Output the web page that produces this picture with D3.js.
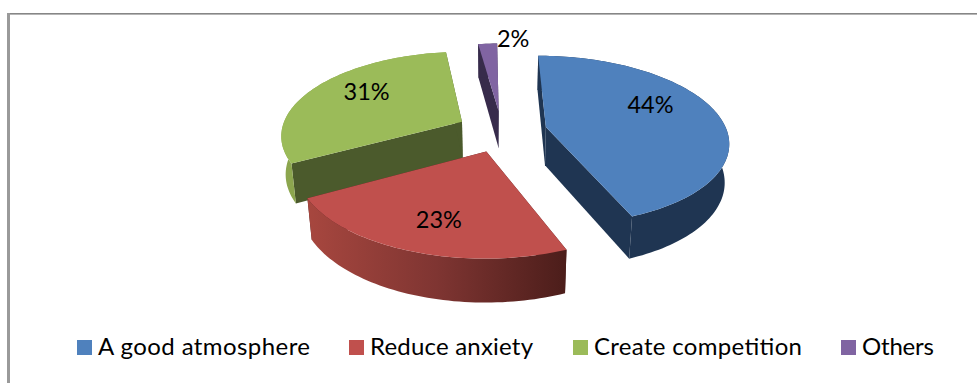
<!DOCTYPE html>
<html>
<head>
<meta charset="utf-8">
<script src="https://cdn.jsdelivr.net/npm/d3@7/dist/d3.min.js"></script>
<style>
  html, body { margin: 0; padding: 0; background: #fff; }
  svg { display: block; }
  text { font-family: Lato, "Noto Sans", sans-serif; fill: #000; }
</style>
</head>
<body>
<script>
const categories = ["A good atmosphere", "Reduce anxiety", "Create competition", "Others"];
const percentages = [44, 23, 31, 2];
const topColors = ["#4f81bd", "#c0504d", "#9bbb59", "#8064a2"];
const sideColors = ["#1f3552", "#4d2020", "#4b5a2c", "#372b4b"];
const rimColors = ["#1f3552", "url(#redRim)", "#8ca64e", "#372b4b"];
const legendSwatchX = [77, 349, 573, 841];
const legendTextWidth = [212, 163, 208, 72];
const labelNudge = [[-7, -10], [-1, 10], [2, -5], [22, -24]];
const paintOrder = [3, 2, 0, 1];

const width = 977, height = 383;
const explode = 0.25, thickness = 1, perspective = 0.155, depthFalloff = 0.02, shear = 1.8;

// Flat pie coordinates: x to the right, z toward the viewer, radius 1.
const xScale = d3.scaleLinear().domain([-1, 1]).range([500 - 181, 500 + 181]);
const zScale = d3.scaleLinear().domain([-1, 1]).range([131 - 83.5, 131 + 83.5]);
const hScale = d3.scaleLinear().domain([0, 1]).range([0, 39]);

function project(x, z, h) {
  const w = 1 - perspective * z + depthFalloff * h;
  return [
    xScale(0) + (xScale(x) - xScale(0)) / w + shear * (1 + z),
    zScale(0) + (zScale(z) - zScale(0) + hScale(h)) / w
  ];
}

const dir = a => [Math.sin(a), -Math.cos(a)];
const pie = d3.pie().sort(null).startAngle(0).endAngle(2 * Math.PI);
const slices = pie(percentages).map((s, i) => {
  const mid = (s.startAngle + s.endAngle) / 2;
  const [ux, uz] = dir(mid);
  return { ...s, i, mid, ox: ux * explode, oz: uz * explode };
});

function arcSamples(s, h) {
  const n = Math.max(4, Math.round((s.endAngle - s.startAngle) * 40));
  return d3.range(n + 1).map(k => {
    const [ux, uz] = dir(s.startAngle + (s.endAngle - s.startAngle) * k / n);
    return project(s.ox + ux, s.oz + uz, h);
  });
}

const path = d3.line();
const svg = d3.select("body").append("svg").attr("width", width).attr("height", height);

const grad = svg.append("defs").append("linearGradient").attr("id", "redRim")
  .attr("gradientUnits", "userSpaceOnUse")
  .attr("x1", 305).attr("x2", 568).attr("y1", 0).attr("y2", 0);
grad.append("stop").attr("offset", 0).attr("stop-color", "#a8473f");
grad.append("stop").attr("offset", 0.5).attr("stop-color", "#7f3532");
grad.append("stop").attr("offset", 1).attr("stop-color", "#4b1d1a");

// Chart frame, open on the right and bottom
svg.append("line").attr("x1", 8).attr("x2", width).attr("y1", 13.5).attr("y2", 13.5).attr("stroke", "#868686").attr("stroke-width", 1);
svg.append("line").attr("x1", 8).attr("x2", width).attr("y1", 14.5).attr("y2", 14.5).attr("stroke", "#b5b5b5").attr("stroke-width", 1);
svg.append("line").attr("x1", 8.5).attr("x2", 8.5).attr("y1", 13).attr("y2", height).attr("stroke", "#9a9a9a").attr("stroke-width", 3);

const pieLayer = svg.append("g");
paintOrder.forEach(idx => {
  const s = slices[idx];
  const g = pieLayer.append("g");
  const apexTop = project(s.ox, s.oz, 0), apexBot = project(s.ox, s.oz, thickness);
  const topArc = arcSamples(s, 0), botArc = arcSamples(s, thickness);
  const side = (t, b) => g.append("path")
    .attr("d", path([apexTop, t, b, apexBot]) + "Z")
    .attr("fill", sideColors[idx]);
  side(topArc[0], botArc[0]);
  side(topArc[topArc.length - 1], botArc[botArc.length - 1]);
  g.append("path")
    .attr("d", path(topArc.concat(botArc.slice().reverse())) + "Z")
    .attr("fill", rimColors[idx]);
  g.append("path")
    .attr("d", path([apexTop].concat(topArc)) + "Z")
    .attr("fill", topColors[idx]);
});

// Percentage labels
const labelPoint = d => {
  const [ux, uz] = dir(d.mid);
  return project(d.ox + ux * 0.65, d.oz + uz * 0.65, 0);
};
svg.append("g").selectAll("text").data(slices).join("text")
  .attr("font-size", 23.5)
  .attr("text-anchor", "middle")
  .attr("dominant-baseline", "middle")
  .attr("x", d => labelPoint(d)[0] + labelNudge[d.i][0])
  .attr("y", d => labelPoint(d)[1] + labelNudge[d.i][1])
  .text(d => d.value + "%");

// Legend
const legend = svg.append("g").selectAll("g").data(categories).join("g")
  .attr("transform", (d, i) => `translate(${legendSwatchX[i]},340)`);
legend.append("rect").attr("width", 15).attr("height", 15).attr("fill", (d, i) => topColors[i]);
legend.append("text").attr("x", 21).attr("y", 15).attr("font-size", 24)
  .attr("textLength", (d, i) => legendTextWidth[i]).attr("lengthAdjust", "spacing")
  .text(d => d);
</script>
</body>
</html>
